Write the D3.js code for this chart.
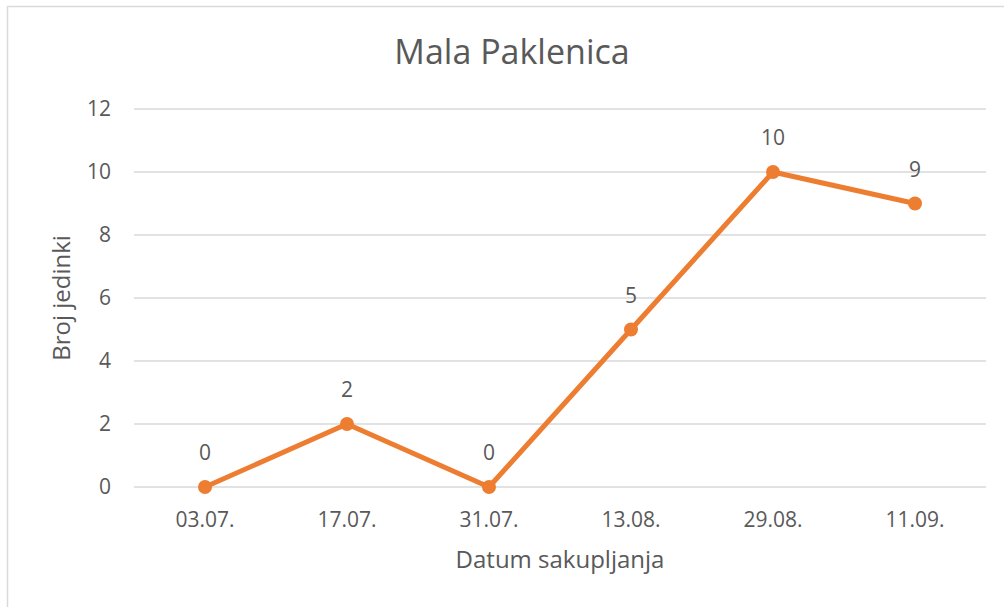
<!DOCTYPE html>
<html>
<head>
<meta charset="utf-8">
<script src="https://cdn.jsdelivr.net/npm/d3@7"></script>
<style>
body { margin: 0; background: #fff; }
text { font-family: "Open Sans", "Liberation Sans", sans-serif; fill: #595959; }
</style>
</head>
<body>
<svg></svg>
<script>
const width = 1004;
const height = 607;

const dates = ["03.07.", "17.07.", "31.07.", "13.08.", "29.08.", "11.09."];
const counts = [0, 2, 0, 5, 10, 9];
const yTicks = [0, 2, 4, 6, 8, 10, 12];

const svg = d3.select("svg").attr("width", width).attr("height", height);

// okvir
svg.append("rect")
	.attr("x", 7.5).attr("y", 6.5)
	.attr("width", 1010).attr("height", 620)
	.attr("fill", "none")
	.attr("stroke", "#d9d9d9")
	.attr("stroke-width", 1.5);

const x = d3.scaleBand().domain(dates).range([134, 986]);
const y = d3.scaleLinear().domain([0, 12]).range([487, 109]);

// mreža
svg.append("g")
	.selectAll("line")
	.data(yTicks)
	.join("line")
	.attr("x1", 134).attr("x2", 986)
	.attr("y1", d => y(d)).attr("y2", d => y(d))
	.attr("stroke", "#d9d9d9")
	.attr("stroke-width", 1.5);

// y oznake
svg.append("g")
	.selectAll("text")
	.data(yTicks)
	.join("text")
	.attr("x", 111)
	.attr("y", d => y(d))
	.attr("dy", "0.35em")
	.attr("text-anchor", "end")
	.style("font-size", "21px")
	.text(d => d);

// x oznake
svg.append("g")
	.selectAll("text")
	.data(dates)
	.join("text")
	.attr("x", d => x(d) + x.bandwidth() / 2)
	.attr("y", 520)
	.attr("dy", "0.35em")
	.attr("text-anchor", "middle")
	.style("font-size", "21px")
	.text(d => d);

const cx = (d, i) => x(dates[i]) + x.bandwidth() / 2;

const line = d3.line()
	.x((d, i) => cx(d, i))
	.y(d => y(d));

svg.append("path")
	.attr("d", line(counts))
	.attr("fill", "none")
	.attr("stroke", "#ED7D31")
	.attr("stroke-width", 5)
	.attr("stroke-linejoin", "round");

svg.append("g")
	.selectAll("circle")
	.data(counts)
	.join("circle")
	.attr("cx", cx)
	.attr("cy", d => y(d))
	.attr("r", 7)
	.attr("fill", "#ED7D31");

// vrijednosti
svg.append("g")
	.selectAll("text")
	.data(counts)
	.join("text")
	.attr("x", cx)
	.attr("y", d => y(d) - 34)
	.attr("dy", "0.35em")
	.attr("text-anchor", "middle")
	.style("font-size", "21px")
	.text(d => d);

// naslovi
svg.append("text")
	.attr("x", 512).attr("y", 52)
	.attr("dy", "0.35em")
	.attr("text-anchor", "middle")
	.style("font-size", "34px")
	.text("Mala Paklenica");

svg.append("text")
	.attr("x", 560).attr("y", 560)
	.attr("dy", "0.35em")
	.attr("text-anchor", "middle")
	.style("font-size", "24px")
	.text("Datum sakupljanja");

svg.append("text")
	.attr("transform", "translate(62,298) rotate(-90)")
	.attr("dy", "0.35em")
	.attr("text-anchor", "middle")
	.style("font-size", "24px")
	.text("Broj jedinki");
</script>
</body>
</html>
